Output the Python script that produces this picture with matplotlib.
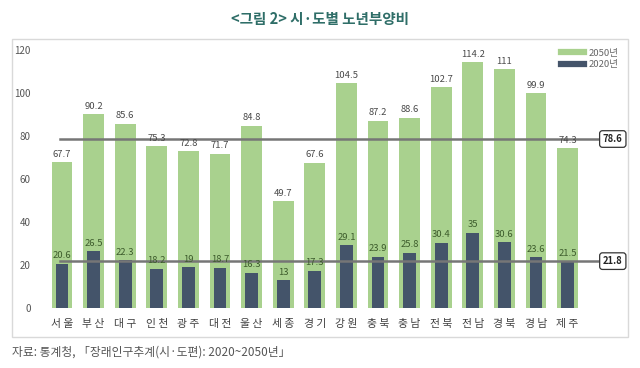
import matplotlib.pyplot as plt
from matplotlib.lines import Line2D
from matplotlib.patches import Rectangle

plt.rcParams['font.family'] = ['Noto Sans CJK KR', 'DejaVu Sans']

regions = ['서울', '부산', '대구', '인천', '광주', '대전', '울산', '세종', '경기',
           '강원', '충북', '충남', '전북', '전남', '경북', '경남', '제주']
ratio_2050 = [67.7, 90.2, 85.6, 75.3, 72.8, 71.7, 84.8, 49.7, 67.6,
              104.5, 87.2, 88.6, 102.7, 114.2, 111, 99.9, 74.3]
ratio_2020 = [20.6, 26.5, 22.3, 18.2, 19, 18.7, 16.3, 13, 17.3,
              29.1, 23.9, 25.8, 30.4, 35, 30.6, 23.6, 21.5]
avg_2050 = 78.6
avg_2020 = 21.8
yticks = [0, 20, 40, 60, 80, 100, 120]

GREEN = '#a9d18e'
NAVY = '#44546a'
W, H = 640, 368

fig = plt.figure(figsize=(6.4, 3.68), dpi=100)

# axes placed in pixel terms: bar 0 at x=62px, spacing 31.6px, y 0..120 -> 308..50px
left_px, right_px = 43, 600
ax = fig.add_axes([left_px / W, (H - 308) / H, (right_px - left_px) / W, 258 / H])
step = 31.6
ax.set_xlim((left_px - 62) / step, (right_px - 62) / step)
ax.set_ylim(0, 120)

x = list(range(len(regions)))
ax.bar(x, ratio_2050, width=0.66, color=GREEN, zorder=1)
ax.bar(x, ratio_2020, width=0.40, color=NAVY, zorder=2)

for xi, v in zip(x, ratio_2050):
    ax.annotate(f'{v:g}', (xi, v), xytext=(0, 2.5), textcoords='offset points',
                ha='center', va='bottom', fontsize=6.8, color='#4a4a4a', zorder=4)
for xi, v in zip(x, ratio_2020):
    ax.annotate(f'{v:g}', (xi, v), xytext=(0, 2.5), textcoords='offset points',
                ha='center', va='bottom', fontsize=6.8, color='#3d5c2c', zorder=4)

# average lines with boxed labels
x_end = len(regions) - 0.03
for val in (avg_2050, avg_2020):
    ax.plot([-0.05, x_end], [val, val], color='#767676', lw=1.8, zorder=3, clip_on=False)
    ax.text(x_end + 0.46, val, f'{val}', ha='center', va='center', fontsize=6.8,
            fontweight='bold', color='#222222', clip_on=False,
            bbox=dict(boxstyle='round,pad=0.35,rounding_size=0.3', fc='white',
                      ec='#333333', lw=0.9))

ax.set_xticks(x)
ax.set_xticklabels([' '.join(r) for r in regions], fontsize=7.8, color='#404040')
ax.set_yticks(yticks)
ax.set_yticklabels([str(t) for t in yticks], fontsize=7, color='#555555')
ax.tick_params(length=0)
ax.tick_params(axis='x', pad=8)
ax.tick_params(axis='y', pad=9)
for s in ax.spines.values():
    s.set_visible(False)

handles = [Line2D([], [], color=GREEN, lw=4.5), Line2D([], [], color=NAVY, lw=4.5)]
fig.legend(handles, ['2050년', '2020년'], loc='upper right',
           bbox_to_anchor=(622 / W, 1 - 45 / H), frameon=False, fontsize=6.8,
           labelcolor='#666666', handlelength=2.4, handletextpad=0.5,
           labelspacing=0.25, borderaxespad=0)

# outer frame of the chart
fig.patches.append(Rectangle((12 / W, 1 - 337 / H), 616 / W, 298 / H,
                             transform=fig.transFigure, fill=False,
                             ec='#d9d9d9', lw=1))

fig.text(0.5, 1 - 19 / H, '<그림 2> 시·도별 노년부양비', ha='center', va='center',
         fontsize=10.5, fontweight='bold', color='#2f6e68')
fig.text(12 / W, 1 - 352 / H, '자료: 통계청, 「장래인구추계(시·도편): 2020~2050년」',
         ha='left', va='center', fontsize=8.5, color='#555555')

fig.savefig('out.png', dpi=100)
